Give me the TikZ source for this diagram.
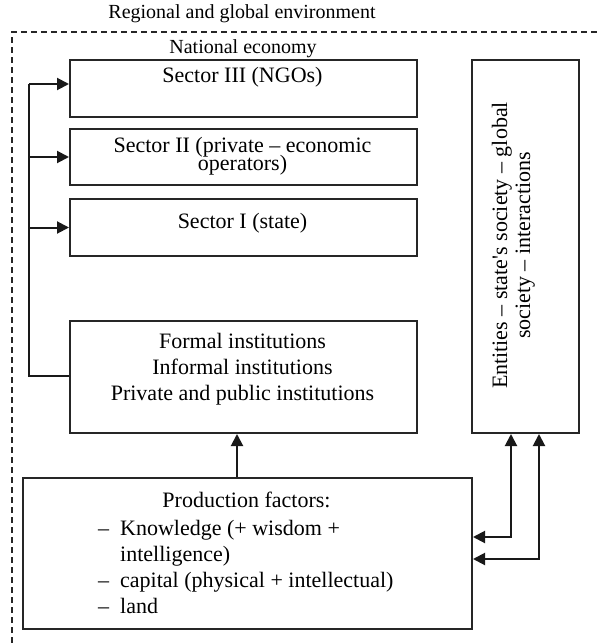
\documentclass[tikz,border=0pt]{standalone}
\usepackage{fontspec}
\setmainfont{Liberation Serif}
\usetikzlibrary{arrows.meta}
\begin{document}
\begin{tikzpicture}[x=1pt,y=-1pt,
  box/.style={draw=black!85,line width=2pt,rectangle,inner sep=0pt,anchor=north west},
  wire/.style={draw=black!90,line width=2pt},
  arr/.style={wire,-{Triangle[length=12pt,width=12pt]}},
  biarr/.style={wire,{Triangle[length=12pt,width=12pt]}-{Triangle[length=12pt,width=12pt]}},
  frame/.style={draw=black!85,line width=1.5pt,dash pattern=on 6pt off 4pt},
  txt/.style={inner sep=0pt,anchor=base,font=\fontsize{22}{26}\selectfont},
  itm/.style={txt,anchor=base west},
  lbl/.style={inner sep=0pt,anchor=base,font=\fontsize{20}{24}\selectfont}]
\useasboundingbox (0,0) rectangle (599,643);

% environment frame (open to the right and below)
\coordinate (fa) at (12,643);
\coordinate (fb) at (12,32);
\coordinate (fc) at (599,32);
\draw[frame] (fa) -- (fb) -- (fc);
\node[lbl] (reg) at (242,18) {Regional and global environment};
\node[lbl] (nat) at (243,53) {National economy};

% boxes
\node[box,minimum width=347pt,minimum height=57pt] (s3) at (69,59) {};
\node[box,minimum width=347pt,minimum height=56pt] (s2) at (69,128) {};
\node[box,minimum width=347pt,minimum height=57pt] (s1) at (69,198) {};
\node[box,minimum width=347pt,minimum height=112pt] (inst) at (69,320) {};
\node[box,minimum width=449pt,minimum height=151pt] (prod) at (22,477) {};
\node[box,minimum width=107pt,minimum height=373pt] (ent) at (471,59) {};

% box texts
\node[txt] (t3) at (242.5,82) {Sector III (NGOs)};
\node[txt] (t2a) at (242.5,152) {Sector II (private -- economic};
\node[txt] (t2b) at (242.5,170) {operators)};
\node[txt] (t1) at (242.5,228) {Sector I (state)};
\node[txt] (ti1) at (242.5,348) {Formal institutions};
\node[txt] (ti2) at (242.5,374) {Informal institutions};
\node[txt] (ti3) at (242.5,400) {Private and public institutions};
\node[txt] (tp) at (246.5,507) {Production factors:};
\node[itm] (d1) at (98,535) {--};
\node[itm] (p1) at (120,535) {Knowledge (+ wisdom +};
\node[itm] (p2) at (120,561) {intelligence)};
\node[itm] (d2) at (98,587) {--};
\node[itm] (p3) at (120,587) {capital (physical + intellectual)};
\node[itm] (d3) at (98,613) {--};
\node[itm] (p4) at (120,613) {land};
\node[txt,rotate=90] (te1) at (507,245.5) {Entities -- state\textquotesingle s society -- global};
\node[txt,rotate=90] (te2) at (530,245.5) {society -- interactions};

% feedback bus from institutions to the three sectors
\coordinate (bt) at (29,84);
\coordinate (bb) at (29,376);
\draw[wire] (bb -| inst.west) -- (bb) -- (bt);
\draw[arr] (bt) -- (bt -| s3.west);
\draw[arr] (s2.west -| bt) -- (s2.west);
\draw[arr] (s1.west -| bt) -- (s1.west);

% production factors to institutions
\coordinate (va) at (237,477);
\draw[arr] (va) -- (va |- inst.south);

% two-way links between production factors and entities
\coordinate (k1) at (511,537);
\coordinate (k2) at (539,559);
\draw[biarr] (k1 -| prod.east) -- (k1) -- (k1 |- ent.south);
\draw[biarr] (k2 -| prod.east) -- (k2) -- (k2 |- ent.south);
\end{tikzpicture}
\end{document}
